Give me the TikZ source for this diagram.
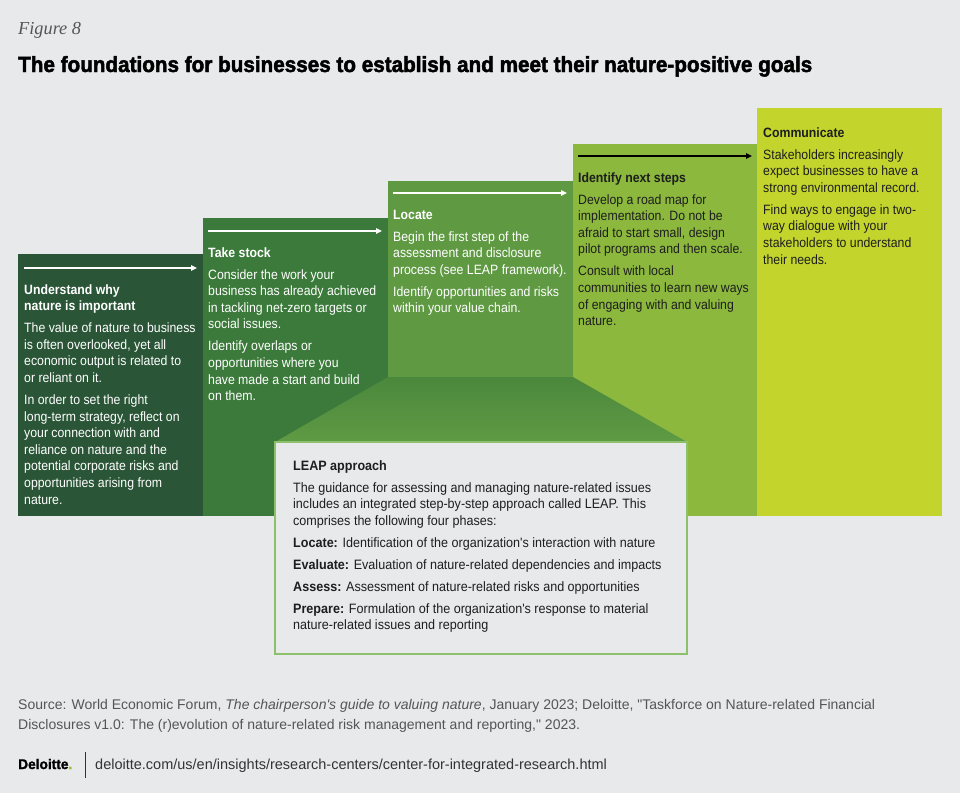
\documentclass[tikz,border=0pt]{standalone}
\usepackage{fontspec}
\setmainfont{Liberation Sans}[FakeStretch=0.91]
\newfontfamily\figfont{Liberation Serif}
\newfontfamily\headfont{Liberation Sans Bold}[FakeStretch=0.94, FakeBold=2.2]
\newfontfamily\logofont{Liberation Sans Bold}[FakeStretch=0.98, FakeBold=1.5]
\newfontfamily\leapfont{Liberation Sans}[FakeStretch=0.925]
\newfontfamily\footfont{Liberation Sans}[FakeStretch=1.0]
\usetikzlibrary{arrows.meta}
\definecolor{bgc}{HTML}{E8E9EB}
\definecolor{cA}{HTML}{2A5637}
\definecolor{cB}{HTML}{3B7A3A}
\definecolor{cC}{HTML}{5F9A43}
\definecolor{cD}{HTML}{8BB83D}
\definecolor{cE}{HTML}{C3D52D}
\definecolor{trapTop}{HTML}{4B883D}
\definecolor{leapEdge}{HTML}{8DC06B}
\definecolor{darkTxt}{HTML}{1E1E1E}
\definecolor{srcTxt}{HTML}{555555}
\definecolor{urlTxt}{HTML}{333333}
\definecolor{dgreen}{HTML}{86BC25}
\newcommand{\blocktext}[2]{\vtop{\hsize=#1\parindent=0pt\parskip=5.4pt\fontsize{13.5}{16.6}\selectfont\raggedright #2}}
\tikzset{
  coltext/.style={anchor=base west, inner sep=0pt},
  steparrow/.style={line width=1.3pt, -{Triangle[length=6pt,width=5.5pt]}},
}
\begin{document}
\begin{tikzpicture}[x=1pt,y=-1pt]
\useasboundingbox (0,0) rectangle (960,793);
\fill[bgc] (0,0) rectangle (960,793);
% columns
\fill[cA] (18,254) rectangle (203,516);
\fill[cB] (203,218) rectangle (388,516);
\fill[cC] (388,181) rectangle (573,377);
\fill[cD] (573,144) rectangle (757,516);
\fill[cE] (757,108) rectangle (942,516);
\shade[top color=trapTop, bottom color=cC] (388,377) -- (573,377) -- (687,442) -- (275,442) -- cycle;
\filldraw[fill=bgc, draw=leapEdge, line width=1.5pt] (275,442) rectangle (687,654);
% arrows
\coordinate (a1s) at (24,268); \coordinate (a1e) at (197,268);
\coordinate (a2s) at (208,231); \coordinate (a2e) at (382,231);
\coordinate (a3s) at (393,193); \coordinate (a3e) at (567,193);
\coordinate (a4s) at (578,156); \coordinate (a4e) at (752,156);
\draw[steparrow, white] (a1s) -- (a1e);
\draw[steparrow, white] (a2s) -- (a2e);
\draw[steparrow, white] (a3s) -- (a3e);
\draw[steparrow, black] (a4s) -- (a4e);
% header
\node[coltext, text=srcTxt, font=\figfont\itshape\fontsize{18.3}{21}\selectfont] (fig) at (18,34) {Figure 8};
\node[coltext, font=\headfont\fontsize{22}{26}\selectfont] (title) at (18,72) {The foundations for businesses to establish and meet their nature-positive goals};
% column texts
\node[coltext, text=white] (t1) at (24,294) {\blocktext{250pt}{{\bfseries Understand why\\nature is important}\par
The value of nature to business\\is often overlooked, yet all\\economic output is related to\\or reliant on it.\par
In order to set the right\\long-term strategy, reflect on\\your connection with and\\reliance on nature and the\\potential corporate risks and\\opportunities arising from\\nature.}};
\node[coltext, text=white] (t2) at (208,257) {\blocktext{250pt}{{\bfseries Take stock}\par
Consider the work your\\business has already achieved\\in tackling net-zero targets or\\social issues.\par
Identify overlaps or\\opportunities where you\\have made a start and build\\on them.}};
\node[coltext, text=white] (t3) at (393,219) {\blocktext{250pt}{{\bfseries Locate}\par
Begin the first step of the\\assessment and disclosure\\process (see LEAP framework).\par
Identify opportunities and risks\\within your value chain.}};
\node[coltext, text=darkTxt] (t4) at (578,182) {\blocktext{250pt}{{\bfseries Identify next steps}\par
Develop a road map for\\implementation. Do not be\\afraid to start small, design\\pilot programs and then scale.\par
Consult with local\\communities to learn new ways\\of engaging with and valuing\\nature.}};
\node[coltext, text=darkTxt] (t5) at (763,137) {\blocktext{250pt}{{\bfseries Communicate}\par
Stakeholders increasingly\\expect businesses to have a\\strong environmental record.\par
Find ways to engage in two-\\way dialogue with your\\stakeholders to understand\\their needs.}};
\node[coltext, text=darkTxt] (leap) at (293,470) {\blocktext{420pt}{\leapfont\fontsize{13.6}{16.6}\selectfont{\bfseries LEAP approach}\par
The guidance for assessing and managing nature-related issues\\includes an integrated step-by-step approach called LEAP. This\\comprises the following four phases:\par
{\bfseries Locate:} Identification of the organization's interaction with nature\par
{\bfseries Evaluate:} Evaluation of nature-related dependencies and impacts\par
{\bfseries Assess:} Assessment of nature-related risks and opportunities\par
{\bfseries Prepare:} Formulation of the organization's response to material\\nature-related issues and reporting}};
% footer
\node[coltext, text=srcTxt] (src) at (18,709) {\vtop{\hsize=940pt\parindent=0pt\footfont\fontsize{14}{20.5}\selectfont\raggedright
Source: World Economic Forum, \textit{The chairperson's guide to valuing nature}, January 2023; Deloitte, "Taskforce on Nature-related Financial\\Disclosures v1.0: The (r)evolution of nature-related risk management and reporting," 2023.}};
\node[coltext, font=\logofont\fontsize{14}{16}\selectfont] (logo) at (18,769) {Deloitte\textcolor{dgreen}{.}};
\coordinate (sepTop) at (85,752); \coordinate (sepBot) at (85,778);
\draw[urlTxt, line width=0.8pt] (sepTop) -- (sepBot);
\node[coltext, text=urlTxt, font=\footfont\fontsize{14.5}{17}\selectfont] (url) at (95,769) {deloitte.com/us/en/insights/research-centers/center-for-integrated-research.html};
\end{tikzpicture}
\end{document}
